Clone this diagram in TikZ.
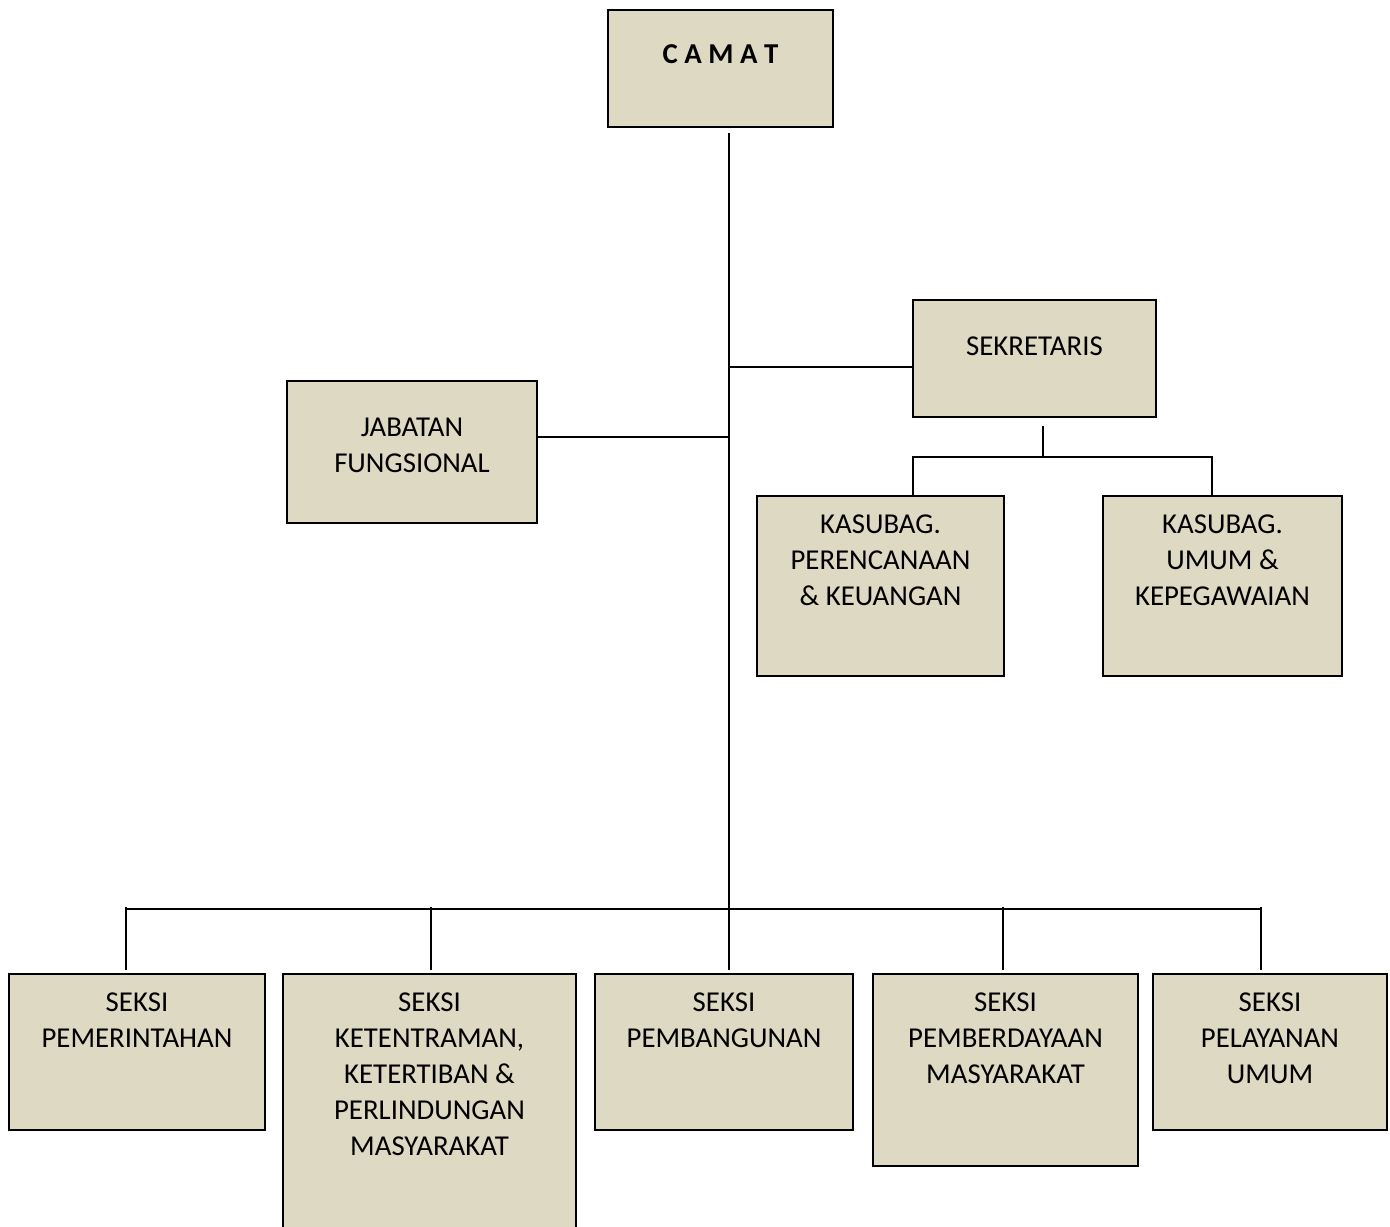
\documentclass[tikz,border=0pt]{standalone}
\usepackage{fontspec}
\setmainfont{Carlito}
\newcommand{\orgfont}{\fontsize{16.4pt}{20.5pt}\selectfont}
\newlength{\px}
\setlength{\px}{0.02cm}
% width, height, top gap (in px), text
\newcommand{\unitbox}[4]{\parbox[t][#2\px][t]{#1\px}{\centering\vspace*{#3\px}#4}}
\definecolor{unitfill}{HTML}{DDD9C3}
\tikzset{
  unit/.style={draw, fill=unitfill, line width=1.3pt, anchor=north west, inner sep=0pt, outer sep=0pt},
  link/.style={line width=1.1pt},
}

\begin{document}
\begin{tikzpicture}[x=0.02cm, y=-0.02cm, font=\orgfont]
\useasboundingbox (0,0) rectangle (1390,1227);

% pimpinan
\node[unit] (camat) at (608,10) {\unitbox{225}{117}{35}{\textbf{C A M A T}}};
\node[unit] (sekretaris) at (913,300) {\unitbox{243}{117}{37}{SEKRETARIS}};
\node[unit] (jabatan) at (287,381) {\unitbox{250}{142}{37}{JABATAN\\FUNGSIONAL}};
\node[unit] (perencanaan) at (757,496) {\unitbox{247}{180}{19}{KASUBAG.\\PERENCANAAN\\\& KEUANGAN}};
\node[unit] (umum) at (1103,496) {\unitbox{239}{180}{19}{KASUBAG.\\UMUM \&\\KEPEGAWAIAN}};

% seksi
\node[unit] (pemerintahan) at (9,974) {\unitbox{256}{156}{19}{SEKSI\\PEMERINTAHAN}};
\node[unit] (ketentraman) at (283,974) {\unitbox{293}{270}{19}{SEKSI\\KETENTRAMAN,\\KETERTIBAN \&\\PERLINDUNGAN\\MASYARAKAT}};
\node[unit] (pembangunan) at (595,974) {\unitbox{258}{156}{19}{SEKSI\\PEMBANGUNAN}};
\node[unit] (pemberdayaan) at (873,974) {\unitbox{265}{192}{19}{SEKSI\\PEMBERDAYAAN\\MASYARAKAT}};
\node[unit] (pelayanan) at (1153,974) {\unitbox{234}{156}{19}{SEKSI\\PELAYANAN\\UMUM}};

\coordinate (top) at (729,133);
\coordinate (busl) at (126,909);
\coordinate (busr) at (1261,909);
\coordinate (lfork) at (913,457);
\coordinate (mfork) at (1043,457);
\coordinate (rfork) at (1212,457);

% garis komando
\draw[link, shorten >=0.08cm] (top) -- (top |- pembangunan.north);
\draw[link] ([yshift=0.3cm]jabatan.east) -- ([yshift=0.3cm]jabatan.east -| top);
\draw[link] ([yshift=-0.17cm]sekretaris.west) -- ([yshift=-0.17cm]sekretaris.west -| top);
\draw[link, shorten <=0.18cm] (sekretaris.south -| mfork) -- (mfork);
\draw[link] (perencanaan.north -| lfork) -- (lfork) -- (rfork) -- (umum.north -| rfork);
\draw[link] (busl) -- (busr);
\foreach \u/\x in {pemerintahan/126, ketentraman/431, pemberdayaan/1003, pelayanan/1261}
  \draw[link, shorten >=0.08cm] (\x,907) -- (\u.north -| \x,0);
\end{tikzpicture}
\end{document}
